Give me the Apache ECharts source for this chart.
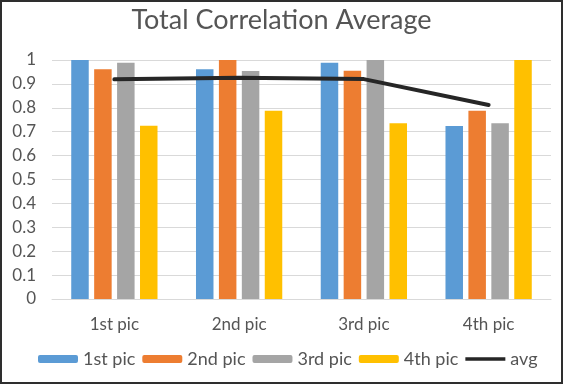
<!DOCTYPE html>
<html>
<head>
<meta charset="utf-8">
<script src="https://cdn.jsdelivr.net/npm/echarts@6/dist/echarts.min.js"></script>
<style>
html,body{margin:0;padding:0;background:#fff;}
#wrap{position:relative;width:563px;height:384px;}
#chart{position:absolute;left:0;top:0;width:563px;height:384px;}
#frame{position:absolute;left:0;top:0;width:563px;height:384px;box-sizing:border-box;border:2px solid #2e2e2e;pointer-events:none;}
</style>
</head>
<body>
<div id="wrap"><div id="chart"></div><div id="frame"></div></div>
<script>
var categories = ['1st pic', '2nd pic', '3rd pic', '4th pic'];
var pic1 = [1.0, 0.961, 0.989, 0.724];
var pic2 = [0.961, 1.0, 0.955, 0.788];
var pic3 = [0.989, 0.954, 1.0, 0.735];
var pic4 = [0.725, 0.788, 0.735, 1.0];
var avg = [0.919, 0.926, 0.920, 0.812];
var yTicks = [0, 0.1, 0.2, 0.3, 0.4, 0.5, 0.6, 0.7, 0.8, 0.9, 1];

var font = 'Lato';
var textColor = '#555555';
var chart = echarts.init(document.getElementById('chart'), null, {renderer: 'canvas'});
function bar(name, data, color) {
  return {
    name: name, type: 'bar', data: data, barWidth: 17.5, barGap: '31%',
    itemStyle: {color: color}
  };
}
var lineIcon = 'path://M0,0 L0,0.01 M0,2.2 L40,2.2 L40,5.8 L0,5.8 Z M40,8 L40,7.99';
chart.setOption({
  animation: false,
  backgroundColor: '#ffffff',
  title: {
    text: 'Total Correlation Average', left: 'center', top: 2,
    textStyle: {fontFamily: font, fontSize: 27, fontWeight: 'normal', color: textColor}
  },
  grid: {left: 52, right: 12, top: 60, bottom: 85},
  legend: {
    bottom: 11, left: 33, itemWidth: 40, itemHeight: 8, itemGap: 7,
    textStyle: {fontFamily: font, fontSize: 18, color: textColor},
    data: ['1st pic', '2nd pic', '3rd pic', '4th pic', {name: 'avg', icon: lineIcon}]
  },
  xAxis: {
    type: 'category', data: categories,
    axisLine: {lineStyle: {color: '#d9d9d9', width: 1}},
    axisTick: {show: false},
    axisLabel: {fontFamily: font, fontSize: 17, color: textColor, margin: 17}
  },
  yAxis: {
    type: 'value', min: 0, max: 1, interval: 0.1,
    axisLine: {show: false}, axisTick: {show: false},
    splitLine: {lineStyle: {color: '#d9d9d9', width: 1}},
    axisLabel: {
      fontFamily: font, fontSize: 17, color: textColor, margin: 16,
      formatter: function (v) {
        for (var i = 0; i < yTicks.length; i++) {
          if (Math.abs(yTicks[i] - v) < 1e-6) return String(yTicks[i]);
        }
        return '';
      }
    }
  },
  series: [
    bar('1st pic', pic1, '#5B9BD5'),
    bar('2nd pic', pic2, '#ED7D31'),
    bar('3rd pic', pic3, '#A5A5A5'),
    bar('4th pic', pic4, '#FFC000'),
    {
      name: 'avg', type: 'line', data: avg, symbol: 'none', showSymbol: false,
      lineStyle: {color: '#262626', width: 4, cap: 'round'},
      itemStyle: {color: '#262626'}, z: 5
    }
  ]
});
</script>
</body>
</html>
